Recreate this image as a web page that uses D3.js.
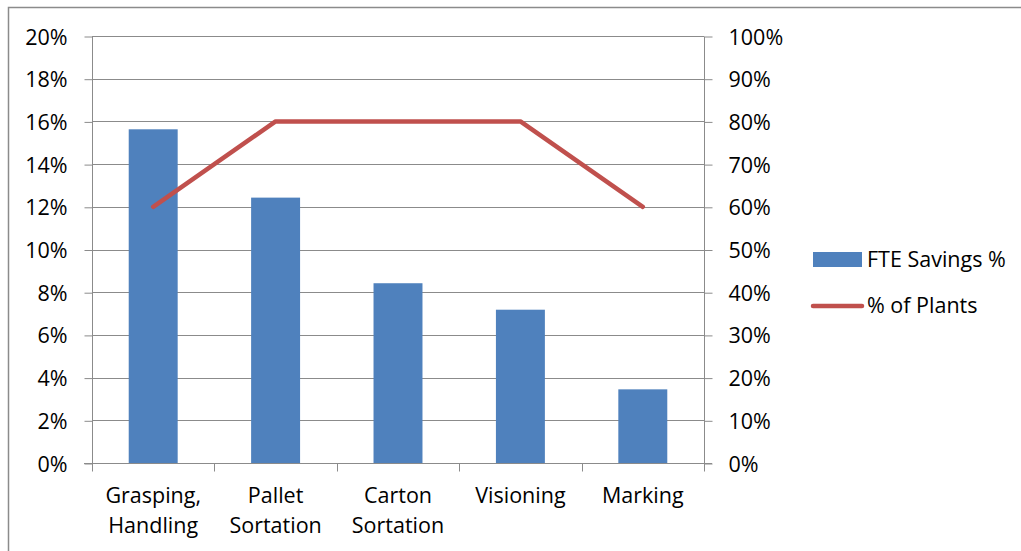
<!DOCTYPE html>
<html>
<head>
<meta charset="utf-8">
<script src="https://cdn.jsdelivr.net/npm/d3@7"></script>
<style>
  body { margin: 0; background: #fff; }
  svg text { font-family: "Open Sans", sans-serif; font-size: 21.5px; fill: #000; }
</style>
</head>
<body>
<div id="chart"></div>
<script>
// chart data
const categories = ['Grasping,\nHandling', 'Pallet\nSortation', 'Carton\nSortation', 'Visioning', 'Marking'];
const fteSavings = [0.1563, 0.1243, 0.0842, 0.0718, 0.0345];
const plantShare = [0.6, 0.8, 0.8, 0.8, 0.6];
const leftTicks = [0, 0.02, 0.04, 0.06, 0.08, 0.10, 0.12, 0.14, 0.16, 0.18, 0.20];
const rightTicks = [0, 0.1, 0.2, 0.3, 0.4, 0.5, 0.6, 0.7, 0.8, 0.9, 1.0];
const seriesNames = ['FTE Savings %', '% of Plants'];

const width = 1021;
const height = 551;
const plot = { left: 92, right: 704, top: 36, bottom: 463 };
const gridColor = '#8b8b8b';
const barColor = '#4f81bd';
const lineColor = '#c0504d';

const svg = d3.select('#chart').append('svg')
  .attr('width', width)
  .attr('height', height);

// outer chart border (runs off the right and bottom edges)
svg.append('rect')
  .attr('x', 8.5).attr('y', 7.5)
  .attr('width', 1040).attr('height', 560)
  .attr('fill', 'none')
  .attr('stroke', '#8b8b8b')
  .attr('stroke-width', 1.5);

const x = d3.scaleBand()
  .domain(categories)
  .range([plot.left, plot.right])
  .paddingInner(0.6)
  .paddingOuter(0.3);

const xOuter = d3.scaleBand()
  .domain(categories)
  .range([plot.left, plot.right]);

const yLeft = d3.scaleLinear().domain([0, 0.2]).range([plot.bottom, plot.top]);
const yRight = d3.scaleLinear().domain([0, 1]).range([plot.bottom, plot.top]);
const pct = d3.format('.0%');

// gridlines
svg.append('g')
  .selectAll('line')
  .data(leftTicks)
  .join('line')
  .attr('x1', plot.left).attr('x2', plot.right)
  .attr('y1', d => Math.round(yLeft(d)) + 0.5)
  .attr('y2', d => Math.round(yLeft(d)) + 0.5)
  .attr('stroke', gridColor);

// left axis
const leftAxis = svg.append('g')
  .attr('transform', `translate(${plot.left + 0.5},0.5)`)
  .call(d3.axisLeft(yLeft).tickValues(leftTicks).tickFormat(pct).tickSize(8).tickPadding(17));

// right axis
const rightAxis = svg.append('g')
  .attr('transform', `translate(${plot.right + 0.5},0.5)`)
  .call(d3.axisRight(yRight).tickValues(rightTicks).tickFormat(pct).tickSize(8).tickPadding(16));

[leftAxis, rightAxis].forEach((ax) => {
  ax.select('.domain').attr('stroke', gridColor).attr('d', `M0,${plot.top}V${plot.bottom}`);
  ax.selectAll('.tick line').attr('stroke', gridColor);
  ax.selectAll('text').attr('font-size', null).attr('font-family', null).attr('dy', '0.35em');
  ax.attr('font-size', null).attr('font-family', null);
});

// bars
svg.append('g')
  .selectAll('rect')
  .data(fteSavings)
  .join('rect')
  .attr('x', (d, i) => x(categories[i]))
  .attr('width', x.bandwidth())
  .attr('y', d => yLeft(d))
  .attr('height', d => plot.bottom - yLeft(d))
  .attr('fill', barColor);

// bottom axis
const bottom = svg.append('g').attr('transform', `translate(0,${plot.bottom + 0.5})`);
bottom.append('line')
  .attr('x1', plot.left).attr('x2', plot.right + 8)
  .attr('stroke', gridColor);
bottom.append('line')
  .attr('x1', plot.left - 8).attr('x2', plot.left)
  .attr('stroke', gridColor);
bottom.selectAll('.xtick')
  .data(categories.concat(['end']))
  .join('line')
  .attr('class', 'xtick')
  .attr('x1', (d, i) => Math.round(plot.left + i * xOuter.bandwidth()) + 0.5)
  .attr('x2', (d, i) => Math.round(plot.left + i * xOuter.bandwidth()) + 0.5)
  .attr('y1', 0).attr('y2', 8)
  .attr('stroke', gridColor);

const labels = svg.append('g')
  .selectAll('text')
  .data(categories)
  .join('text')
  .attr('text-anchor', 'middle')
  .attr('x', d => xOuter(d) + xOuter.bandwidth() / 2)
  .attr('y', 503);
labels.selectAll('tspan')
  .data(d => d.split('\n'))
  .join('tspan')
  .attr('x', function () { return d3.select(this.parentNode).attr('x'); })
  .attr('dy', (d, i) => (i === 0 ? 0 : 30))
  .text(d => d);

// line series
const line = d3.line()
  .x((d, i) => xOuter(categories[i]) + xOuter.bandwidth() / 2)
  .y(d => yRight(d));

svg.append('path')
  .datum(plantShare)
  .attr('d', line)
  .attr('fill', 'none')
  .attr('stroke', lineColor)
  .attr('stroke-width', 4.5)
  .attr('stroke-linecap', 'round')
  .attr('stroke-linejoin', 'round');

// legend
const legend = svg.append('g').attr('transform', 'translate(813,0)');
legend.append('rect')
  .attr('x', 0).attr('y', 252)
  .attr('width', 49).attr('height', 15)
  .attr('fill', barColor);
legend.append('text').attr('x', 54).attr('y', 267).text(seriesNames[0]);
legend.append('line')
  .attr('x1', 0).attr('x2', 49)
  .attr('y1', 306).attr('y2', 306)
  .attr('stroke', lineColor)
  .attr('stroke-width', 4.5)
  .attr('stroke-linecap', 'round');
legend.append('text').attr('x', 54).attr('y', 313).text(seriesNames[1]);
</script>
</body>
</html>
